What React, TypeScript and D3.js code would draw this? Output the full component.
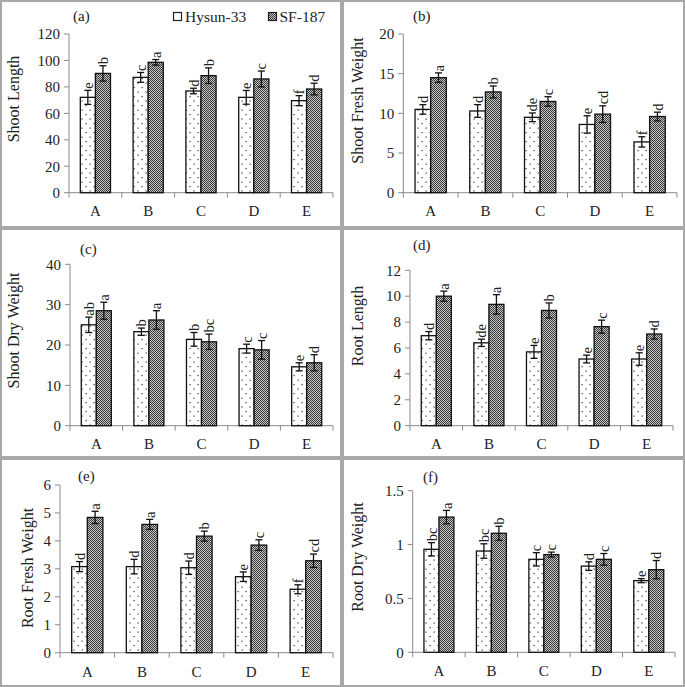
import React from "react";
import * as d3 from "d3";

const categories = ["A", "B", "C", "D", "E"];
const seriesNames = ["Hysun-33", "SF-187"];

// (a) Shoot Length
const shootLengthHysun = [72.1, 87.2, 76.9, 72.1, 69.6];
const shootLengthHysunErr = [5.3, 3.7, 2.1, 5.2, 3.8];
const shootLengthSF = [90.2, 98.6, 88.5, 86.0, 78.4];
const shootLengthSFErr = [5.8, 2.1, 5.9, 6.0, 4.4];
const shootLengthHysunLetters = ["e", "c", "d", "e", "f"];
const shootLengthSFLetters = ["b", "a", "b", "c", "d"];

// (b) Shoot Fresh Weight
const shootFreshHysun = [10.5, 10.3, 9.5, 8.6, 6.4];
const shootFreshHysunErr = [0.6, 0.8, 0.55, 1.1, 0.65];
const shootFreshSF = [14.5, 12.7, 11.5, 9.9, 9.6];
const shootFreshSFErr = [0.6, 0.75, 0.6, 1.05, 0.55];
const shootFreshHysunLetters = ["d", "d", "de", "e", "f"];
const shootFreshSFLetters = ["a", "b", "c", "cd", "d"];

// (c) Shoot Dry Weight
const shootDryHysun = [25.0, 23.3, 21.4, 19.1, 14.6];
const shootDryHysunErr = [1.9, 0.9, 1.7, 1.1, 1.0];
const shootDrySF = [28.5, 26.2, 20.8, 18.8, 15.6];
const shootDrySFErr = [2.1, 2.3, 1.9, 2.3, 2.0];
const shootDryHysunLetters = ["ab", "b", "b", "c", "e"];
const shootDrySFLetters = ["a", "a", "bc", "c", "d"];

// (d) Root Length
const rootLengthHysun = [6.95, 6.4, 5.7, 5.15, 5.15];
const rootLengthHysunErr = [0.32, 0.28, 0.5, 0.3, 0.48];
const rootLengthSF = [10.0, 9.37, 8.9, 7.65, 7.08];
const rootLengthSFErr = [0.39, 0.75, 0.58, 0.5, 0.39];
const rootLengthHysunLetters = ["d", "de", "e", "e", "e"];
const rootLengthSFLetters = ["a", "a", "b", "c", "d"];

// (e) Root Fresh Weight
const rootFreshHysun = [3.08, 3.08, 3.04, 2.72, 2.27];
const rootFreshHysunErr = [0.18, 0.26, 0.24, 0.17, 0.16];
const rootFreshSF = [4.84, 4.59, 4.17, 3.85, 3.29];
const rootFreshSFErr = [0.22, 0.18, 0.18, 0.19, 0.24];
const rootFreshHysunLetters = ["d", "d", "d", "e", "f"];
const rootFreshSFLetters = ["a", "a", "b", "c", "cd"];

// (f) Root Dry Weight
const rootDryHysun = [0.956, 0.94, 0.863, 0.8, 0.665];
const rootDryHysunErr = [0.062, 0.067, 0.062, 0.04, 0.019];
const rootDrySF = [1.255, 1.105, 0.907, 0.863, 0.767];
const rootDrySFErr = [0.062, 0.065, 0.023, 0.054, 0.085];
const rootDryHysunLetters = ["bc", "bc", "c", "d", "e"];
const rootDrySFLetters = ["a", "b", "c", "c", "d"];

const panelTags = ["(a)", "(b)", "(c)", "(d)", "(e)", "(f)"];
const yTitles = [
  "Shoot Length",
  "Shoot Fresh Weight",
  "Shoot Dry Weight",
  "Root Length",
  "Root Fresh Weight",
  "Root Dry Weight",
];
const yMaxes = [120, 20, 40, 12, 6, 1.5];
const yTickSteps = [20, 5, 10, 2, 1, 0.5];

const panelData = [
  { h: shootLengthHysun, he: shootLengthHysunErr, s: shootLengthSF, se: shootLengthSFErr, hl: shootLengthHysunLetters, sl: shootLengthSFLetters },
  { h: shootFreshHysun, he: shootFreshHysunErr, s: shootFreshSF, se: shootFreshSFErr, hl: shootFreshHysunLetters, sl: shootFreshSFLetters },
  { h: shootDryHysun, he: shootDryHysunErr, s: shootDrySF, se: shootDrySFErr, hl: shootDryHysunLetters, sl: shootDrySFLetters },
  { h: rootLengthHysun, he: rootLengthHysunErr, s: rootLengthSF, se: rootLengthSFErr, hl: rootLengthHysunLetters, sl: rootLengthSFLetters },
  { h: rootFreshHysun, he: rootFreshHysunErr, s: rootFreshSF, se: rootFreshSFErr, hl: rootFreshHysunLetters, sl: rootFreshSFLetters },
  { h: rootDryHysun, he: rootDryHysunErr, s: rootDrySF, se: rootDrySFErr, hl: rootDryHysunLetters, sl: rootDrySFLetters },
];

// layout (pixels)
const layouts = [
  { axisX: 69, xEnd: 333, y0: 192.7, yTop: 34, tagX: 73, tagY: 20.5, titleX: 13, titleY: 99, catY: 216 },
  { axisX: 403.3, xEnd: 677, y0: 192.7, yTop: 34, tagX: 413, tagY: 21, titleX: 357, titleY: 100.5, catY: 216 },
  { axisX: 70, xEnd: 333, y0: 425.7, yTop: 264.3, tagX: 80, tagY: 254, titleX: 13, titleY: 330.5, catY: 449 },
  { axisX: 410, xEnd: 673, y0: 425.7, yTop: 270.3, tagX: 413, tagY: 249.5, titleX: 357, titleY: 326, catY: 449 },
  { axisX: 60, xEnd: 333, y0: 652.7, yTop: 485, tagX: 78, tagY: 481, titleX: 27, titleY: 568, catY: 677 },
  { axisX: 412.7, xEnd: 675, y0: 652.3, yTop: 490.7, tagX: 423, tagY: 482, titleX: 357, titleY: 557, catY: 676 },
];

const frames = [
  { x: 1, y: 1, w: 340, h: 226 },
  { x: 343, y: 1, w: 341, h: 226 },
  { x: 1, y: 229, w: 340, h: 228 },
  { x: 343, y: 229, w: 341, h: 228 },
  { x: 1, y: 459, w: 340, h: 227 },
  { x: 343, y: 459, w: 341, h: 227 },
];

const FONT = "Liberation Serif, Tinos, DejaVu Serif, serif";
const AXIS = "#8a8a8a";

function Panel({ i }: { i: number }) {
  const L = layouts[i];
  const D = panelData[i];
  const x = d3.scaleBand<string>().domain(categories).range([L.axisX, L.xEnd]).paddingInner(0).paddingOuter(0);
  const y = d3.scaleLinear().domain([0, yMaxes[i]]).range([L.y0, L.yTop]);
  const bw = x.bandwidth() / 3.5;
  const ticks = d3.range(0, yMaxes[i] + 1e-9, yTickSteps[i]);
  const fmt = d3.format("~g");
  const series = [
    { v: D.h, e: D.he, l: D.hl, fill: "url(#dots)" },
    { v: D.s, e: D.se, l: D.sl, fill: "url(#checker)" },
  ];
  const boundaries = d3.range(0, categories.length + 1).map((k) => L.axisX + k * x.bandwidth());
  return (
    <g>
      <rect x={frames[i].x} y={frames[i].y} width={frames[i].w} height={frames[i].h} fill="none" stroke="#a8a8a8" strokeWidth={2} />
      <line x1={L.axisX} x2={L.axisX} y1={L.yTop} y2={L.y0} stroke={AXIS} strokeWidth={1} />
      {ticks.map((t) => (
        <g key={t}>
          <line x1={L.axisX - 5} x2={L.axisX} y1={y(t)} y2={y(t)} stroke={AXIS} strokeWidth={1} />
          <text x={L.axisX - 9} y={y(t)} dy="0.35em" textAnchor="end" fontSize={15} fontFamily={FONT} fill="#222">
            {fmt(t)}
          </text>
        </g>
      ))}
      <line x1={L.axisX} x2={L.xEnd} y1={L.y0} y2={L.y0} stroke={AXIS} strokeWidth={1} />
      {boundaries.map((bx, k) => (
        <line key={k} x1={bx} x2={bx} y1={L.y0} y2={L.y0 + 5} stroke={AXIS} strokeWidth={1} />
      ))}
      {categories.map((c) => (
        <text key={c} x={(x(c) as number) + x.bandwidth() / 2} y={L.catY} textAnchor="middle" fontSize={15} fontFamily={FONT} fill="#222">
          {c}
        </text>
      ))}
      {series.map((s, si) =>
        categories.map((c, ci) => {
          const cx = (x(c) as number) + x.bandwidth() / 2;
          const bx = cx - bw + si * bw;
          const top = y(s.v[ci]);
          const et = y(s.v[ci] + s.e[ci]);
          const eb = y(s.v[ci] - s.e[ci]);
          const mid = bx + bw / 2;
          return (
            <g key={si + "-" + c}>
              <rect x={bx} y={top} width={bw} height={L.y0 - top} fill={s.fill} stroke="#111" strokeWidth={1.3} />
              <line x1={mid} x2={mid} y1={et} y2={eb} stroke="#111" strokeWidth={1.3} />
              <line x1={mid - 3.5} x2={mid + 3.5} y1={et} y2={et} stroke="#111" strokeWidth={1.3} />
              <line x1={mid - 3.5} x2={mid + 3.5} y1={eb} y2={eb} stroke="#111" strokeWidth={1.3} />
              <text
                transform={`translate(${mid},${et - 1.5}) rotate(-90)`}
                dy="0.35em"
                textAnchor="start"
                fontSize={14.5}
                fontFamily={FONT}
                fill="#222"
              >
                {s.l[ci]}
              </text>
            </g>
          );
        })
      )}
      <text x={L.tagX} y={L.tagY} fontSize={15} fontFamily={FONT} fill="#222">
        {panelTags[i]}
      </text>
      <text
        transform={`translate(${L.titleX},${L.titleY}) rotate(-90)`}
        dy="0.35em"
        textAnchor="middle"
        fontSize={16}
        fontFamily={FONT}
        fill="#222"
      >
        {yTitles[i]}
      </text>
    </g>
  );
}

export default function App() {
  return (
    <svg width={685} height={687} style={{ position: "absolute", left: 0, top: 0, background: "#fff" }}>
      <defs>
        <pattern id="dots" width={8} height={9} patternUnits="userSpaceOnUse">
          <rect width={8} height={9} fill="#fff" />
          <rect x={1.5} y={1.5} width={1.2} height={1.2} fill="#333" />
          <rect x={5.5} y={6} width={1.2} height={1.2} fill="#333" />
        </pattern>
        <pattern id="checker" width={2} height={2} patternUnits="userSpaceOnUse">
          <rect width={2} height={2} fill="#c4c4c4" />
          <rect x={0} y={0} width={1} height={1} fill="#3a3a3a" />
          <rect x={1} y={1} width={1} height={1} fill="#3a3a3a" />
        </pattern>
      </defs>
      <rect width={685} height={687} fill="#fff" />
      {layouts.map((_, i) => (
        <Panel key={i} i={i} />
      ))}
      <rect x={173.5} y={12.5} width={8} height={8} fill="#fff" stroke="#222" strokeWidth={1.2} />
      <text x={185} y={21.5} fontSize={15.5} fontFamily={FONT} fill="#222">
        {seriesNames[0]}
      </text>
      <rect x={268.5} y={12.5} width={8} height={8} fill="url(#checker)" stroke="#222" strokeWidth={1.2} />
      <text x={279.5} y={21.5} fontSize={15.5} fontFamily={FONT} fill="#222">
        {seriesNames[1]}
      </text>
    </svg>
  );
}
